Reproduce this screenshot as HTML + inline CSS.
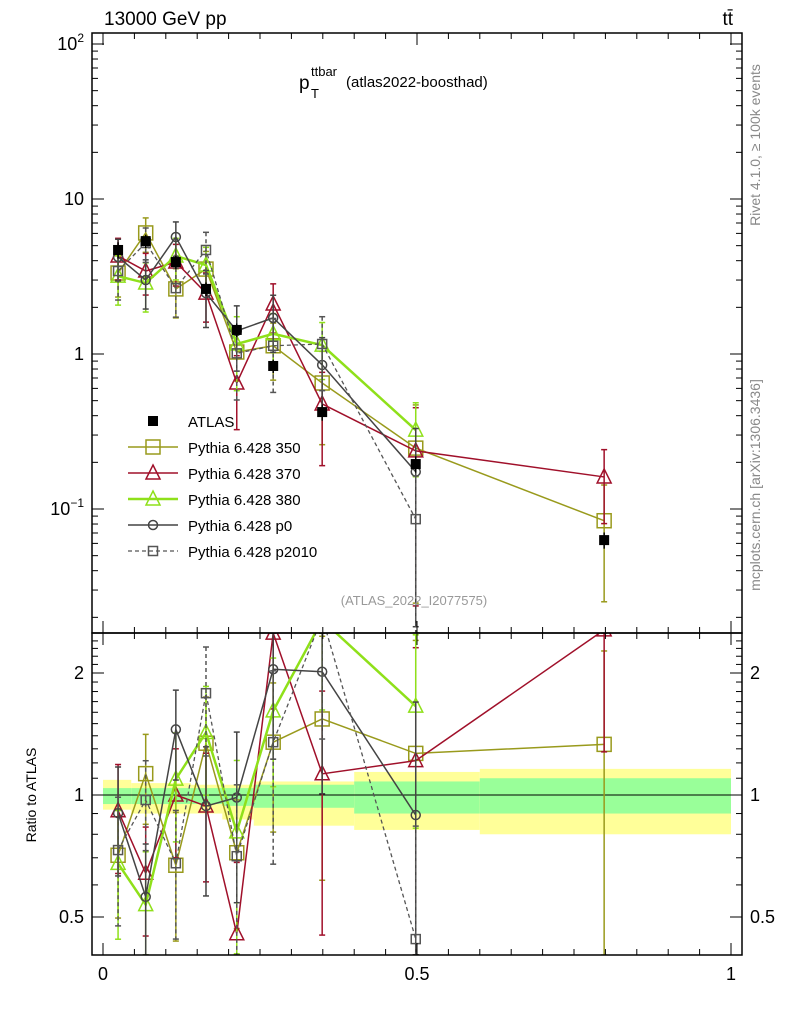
<!DOCTYPE html>
<html><head><meta charset="utf-8"><style>
html,body{margin:0;background:#fff;width:786px;height:1024px;overflow:hidden;}
svg{display:block;font-family:"Liberation Sans",sans-serif;}
</style></head><body>
<svg id="c" width="786" height="1024" xmlns="http://www.w3.org/2000/svg">
<defs>
<clipPath id="cm"><rect x="92" y="33" width="650" height="600"/></clipPath>
<clipPath id="cr"><rect x="92" y="633" width="650" height="322"/></clipPath>
</defs>
<g id="bands"></g><g id="grid"></g><g id="series"></g><g id="axes"></g>
<text x="104" y="25" font-size="19">13000 GeV pp</text>
<text x="733" y="25" font-size="19" text-anchor="end">tt̄</text>
<g>
<text x="299" y="89" font-size="19">p</text>
<text x="311" y="76" font-size="13">ttbar</text>
<text x="311" y="98" font-size="13">T</text>
<text x="346" y="87" font-size="15">(atlas2022-boosthad)</text>
</g>
<text x="414" y="605" font-size="13" fill="#999" text-anchor="middle">(ATLAS_2022_I2077575)</text>
<text transform="translate(760,145) rotate(-90)" font-size="14" fill="#888" text-anchor="middle">Rivet 4.1.0, ≥ 100k events</text>
<text transform="translate(760,485) rotate(-90)" font-size="14" fill="#888" text-anchor="middle">mcplots.cern.ch [arXiv:1306.3436]</text>
<text transform="translate(36,795) rotate(-90)" font-size="14" text-anchor="middle">Ratio to ATLAS</text>
<g id="legend"></g>
</svg>
<script>
const xCenters=[0.024,0.068,0.116,0.164,0.213,0.271,0.349,0.498,0.798];
const atlas=[4.69,5.35,3.92,2.63,1.43,0.837,0.422,0.195,0.063];
const atlasErr=[0.12,0.1,0.1,0.1,0.1,0.1,0.12,0.12,0.12];
const s350=[3.33,6.04,2.63,3.53,1.03,1.13,0.65,0.247,0.084];
const e350=[0.3,0.25,0.35,0.3,0.35,0.4,0.6,0.9,0.7];
const s370=[4.29,3.43,3.92,2.47,0.65,2.1,0.476,0.237,0.161];
const e370=[0.3,0.3,0.3,0.35,0.5,0.35,0.6,0.9,0.5];
const s380=[3.18,2.87,4.29,3.75,1.16,1.35,1.14,0.323];
const e380=[0.35,0.35,0.3,0.3,0.5,0.35,0.4,0.5];
const sp0=[4.23,3.0,5.69,2.47,1.41,1.71,0.85,0.174];
const ep0=[0.3,0.35,0.25,0.4,0.45,0.4,0.5,0.9];
const sp2010=[3.43,5.2,2.66,4.69,1.01,1.13,1.16,0.086];
const ep2010=[0.35,0.25,0.35,0.3,0.5,0.5,0.5,0.9];
const binEdges=[0,0.045,0.09,0.14,0.19,0.24,0.4,0.6,1.0];
const yelUp=[1.09,1.07,1.07,1.06,1.06,1.08,1.14,1.16];
const yelLo=[0.92,0.9,0.9,0.9,0.87,0.84,0.82,0.8];
const grnUp=[1.04,1.04,1.04,1.04,1.04,1.06,1.08,1.1];
const grnLo=[0.95,0.95,0.95,0.95,0.94,0.93,0.9,0.9];
const yMainTicks=[0.1,1,10,100];
const ratioTicks=[0.5,1,2];
const xTickLabels=[0,0.5,1];

const NS="http://www.w3.org/2000/svg";
const X=v=>103+628*v;
const Y=v=>354-155*Math.log10(v);
const R=v=>795-122*Math.log2(v);
const cl=(y,a,b)=>Math.max(a,Math.min(b,y));
function mk(p,t,a){const e=document.createElementNS(NS,t);for(const k in a)e.setAttribute(k,a[k]);p.appendChild(e);return e;}
const gB=document.getElementById('bands'),gS=document.getElementById('series'),gA=document.getElementById('axes'),gL=document.getElementById('legend');
const cb=mk(gB,'g',{'clip-path':'url(#cr)'});
for(let i=0;i<binEdges.length-1;i++){
 let r=mk(cb,'rect',{x:X(binEdges[i]),y:R(yelUp[i]),width:X(binEdges[i+1])-X(binEdges[i]),height:R(yelLo[i])-R(yelUp[i]),fill:'#ffff99'});
 
 let g=mk(cb,'rect',{x:X(binEdges[i]),y:R(grnUp[i]),width:X(binEdges[i+1])-X(binEdges[i]),height:R(grnLo[i])-R(grnUp[i]),fill:'#99ff99'});
 
}
mk(cb,'line',{x1:92,x2:742,y1:R(1),y2:R(1),stroke:'#000','stroke-width':1});

function marker(p,type,x,y,col,sz){
 if(type==='sq') return mk(p,'rect',{x:x-sz,y:y-sz,width:2*sz,height:2*sz,fill:'none',stroke:col,'stroke-width':1.5});
 if(type==='fsq') return mk(p,'rect',{x:x-5,y:y-5,width:10,height:10,fill:'#000'});
 if(type==='tri') return mk(p,'path',{d:`M${x},${y-sz-1}L${x+sz},${y+sz-1}L${x-sz},${y+sz-1}Z`,fill:'none',stroke:col,'stroke-width':1.5});
 if(type==='circ') return mk(p,'circle',{cx:x,cy:y,r:sz,fill:'none',stroke:col,'stroke-width':1.5});
}
const series=[
 {name:'pythia-350',label:'Pythia 6.428 350',v:s350,e:e350,col:'#999a1c',m:'sq',sz:7,w:1.5,dash:''},
 {name:'pythia-370',label:'Pythia 6.428 370',v:s370,e:e370,col:'#a0102a',m:'tri',sz:7,w:1.5,dash:''},
 {name:'pythia-380',label:'Pythia 6.428 380',v:s380,e:e380,col:'#8fe01a',m:'tri',sz:7,w:2.5,dash:''},
 {name:'pythia-p0',label:'Pythia 6.428 p0',v:sp0,e:ep0,col:'#444',m:'circ',sz:4.5,w:1.5,dash:''},
 {name:'pythia-p2010',label:'Pythia 6.428 p2010',v:sp2010,e:ep2010,col:'#555',m:'sq',sz:4.5,w:1.3,dash:'4,3'}
];
function drawSeries(s,scale,vals,clip,top,bot){
 const g=mk(gS,'g',{'clip-path':clip});
 
 
 let pts=[];
 vals.forEach((v,i)=>{
  const x=X(xCenters[i]),y=scale(v);pts.push(x+','+cl(y,top-200,bot+200));
  const lo=cl(scale(v*(1-Math.min(s.e[i],0.95))),top,bot),hi=cl(scale(v*(1+s.e[i])),top,bot);
  mk(g,'line',{x1:x,x2:x,y1:hi,y2:lo,stroke:s.col,'stroke-width':1.5,'stroke-dasharray':s.dash});
  mk(g,'line',{x1:x-3,x2:x+3,y1:hi,y2:hi,stroke:s.col,'stroke-width':1.5});
  mk(g,'line',{x1:x-3,x2:x+3,y1:lo,y2:lo,stroke:s.col,'stroke-width':1.5});
 });
 mk(g,'polyline',{points:pts.join(' '),fill:'none',stroke:s.col,'stroke-width':s.w,'stroke-dasharray':s.dash});
 vals.forEach((v,i)=>{const y=scale(v);if(y<top-10||y>bot+10)return;const m=marker(g,s.m,X(xCenters[i]),y,s.col,s.sz);
  });
}
series.forEach(s=>{
 drawSeries(s,Y,s.v,'url(#cm)',33,633);
 drawSeries(s,R,s.v.map((v,i)=>v/atlas[i]),'url(#cr)',633,955);
});
const ga=mk(gS,'g',{'clip-path':'url(#cm)'});

atlas.forEach((v,i)=>{const x=X(xCenters[i]);
 mk(ga,'line',{x1:x,x2:x,y1:Y(v*(1+atlasErr[i])),y2:Y(v*(1-atlasErr[i])),stroke:'#000','stroke-width':1.5});
 const m=marker(ga,'fsq',x,Y(v));});

mk(gA,'rect',{x:92,y:33,width:650,height:600,fill:'none',stroke:'#000','stroke-width':1.5});
mk(gA,'rect',{x:92,y:633,width:650,height:322,fill:'none',stroke:'#000','stroke-width':1.5});
for(let d=-2;d<=2;d++)for(let k=1;k<10;k++){const v=k*Math.pow(10,d),y=Y(v);if(y<33||y>633)continue;
 const L=k===1?12:6;mk(gA,'line',{x1:92,x2:92+L,y1:y,y2:y,stroke:'#000'});mk(gA,'line',{x1:742-L,x2:742,y1:y,y2:y,stroke:'#000'});}
yMainTicks.forEach(v=>{const y=Y(v);const t=mk(gA,'text',{x:84,y:y+6,'font-size':18,'text-anchor':'end'});
 
 if(v===10)t.textContent='10';else if(v===1)t.textContent='1';else{t.textContent='10';const s=mk(t,'tspan',{'font-size':12,dy:-8});s.textContent=v===100?'2':'−1';}});
for(let v=0.4;v<=2.5;v+=0.1){const y=R(v);if(y<633||y>955)continue;const maj=[0.5,1,2].some(m=>Math.abs(m-v)<1e-6);const L=maj?12:6;
 mk(gA,'line',{x1:92,x2:92+L,y1:y,y2:y,stroke:'#000'});mk(gA,'line',{x1:742-L,x2:742,y1:y,y2:y,stroke:'#000'});}
ratioTicks.forEach(v=>{const y=R(v);
 let t=mk(gA,'text',{x:84,y:y+6,'font-size':18,'text-anchor':'end'});t.textContent=v;
 
 t=mk(gA,'text',{x:750,y:y+6,'font-size':18});t.textContent=v;
 });
for(let i=0;i<=20;i++){const v=i*0.05,x=X(v);const L=i%10===0?12:6;
 [633,955].forEach(b=>{mk(gA,'line',{x1:x,x2:x,y1:b-L,y2:b,stroke:'#000'});});
 mk(gA,'line',{x1:x,x2:x,y1:633,y2:633+L,stroke:'#000'});mk(gA,'line',{x1:x,x2:x,y1:33,y2:33+L,stroke:'#000'});}
xTickLabels.forEach(v=>{const t=mk(gA,'text',{x:X(v),y:980,'font-size':18,'text-anchor':'middle'});t.textContent=v;
 });
const ly=[421,447,473,499,525,551];
let e=mk(gL,'g',{});
marker(e,'fsq',153,ly[0]);let t=mk(e,'text',{x:188,y:ly[0]+6,'font-size':15});t.textContent='ATLAS';
series.forEach((s,i)=>{const y=ly[i+1];const g=mk(gL,'g',{});
 
 mk(g,'line',{x1:128,x2:178,y1:y,y2:y,stroke:s.col,'stroke-width':s.w,'stroke-dasharray':s.dash});
 marker(g,s.m,153,y,s.col,s.sz);const tt=mk(g,'text',{x:188,y:y+6,'font-size':15});tt.textContent=s.label;});
</script>
</body></html>
